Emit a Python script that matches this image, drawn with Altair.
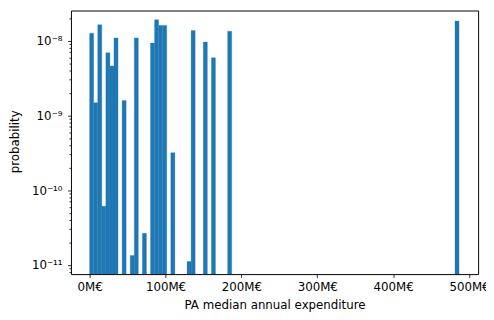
import altair as alt
import pandas as pd

# histogram bins (left edges in M€) and probabilities
bin_width = 5.35
bin_left = [0.0, 5.35, 10.7, 16.05, 21.4, 26.75, 32.1, 42.8, 53.5, 58.85,
            69.55, 80.25, 85.6, 90.95, 96.3, 107.0, 128.4, 133.75, 149.8,
            160.5, 181.9, 481.5]
prob = [1.26e-8, 1.48e-9, 1.64e-8, 6.1e-11, 6.9e-9, 4.6e-9, 1.09e-8, 1.58e-9,
        1.34e-11, 1.09e-8, 2.65e-11, 9.3e-9, 1.91e-8, 1.6e-8, 1.6e-8, 3.18e-10,
        1.11e-11, 1.37e-8, 9.6e-9, 5.9e-9, 1.34e-8, 1.83e-8]

x_ticks = [0, 100, 200, 300, 400, 500]
Y_MIN, Y_MAX = 7.55e-12, 2.535e-8
X_MIN, X_MAX = -24.6, 512.0

y_ticks = []
for k in range(-12, -7):
    for m in range(1, 10):
        v = m * 10.0 ** k
        if Y_MIN <= v <= Y_MAX:
            y_ticks.append(v)

df = pd.DataFrame({
    "left": bin_left,
    "right": [l + bin_width for l in bin_left],
    "prob": prob,
    "base": [Y_MIN] * len(prob),
})

is_major = "abs(log(datum.value)/LN10 - round(log(datum.value)/LN10)) < 0.001"
ylabel = (
    f"({is_major}) ? ("
    "round(log(datum.value)/LN10) == -8 ? '10⁻⁸' : "
    "round(log(datum.value)/LN10) == -9 ? '10⁻⁹' : "
    "round(log(datum.value)/LN10) == -10 ? '10⁻¹⁰' : "
    "round(log(datum.value)/LN10) == -11 ? '10⁻¹¹' : '') : ''"
)

chart = alt.Chart(df).mark_bar(color="#1f77b4", clip=True, binSpacing=0,
                               stroke="#1f77b4", strokeWidth=0.3).encode(
    x=alt.X("left:Q",
            scale=alt.Scale(domain=[X_MIN, X_MAX], nice=False, zero=False),
            axis=alt.Axis(values=x_ticks, labelExpr="datum.value + 'M€'",
                          title="PA median annual expenditure",
                          grid=False, domain=False, tickSize=3.5,
                          labelPadding=4, titleY=35, titleBaseline="alphabetic")),
    x2="right:Q",
    y=alt.Y("prob:Q",
            scale=alt.Scale(type="log", domain=[Y_MIN, Y_MAX], nice=False),
            axis=alt.Axis(values=y_ticks, labelExpr=ylabel, title="probability",
                          grid=False, domain=False,
                          tickSize={"condition": {"test": is_major, "value": 3.5}, "value": 2},
                          labelPadding=5.5, titleX=-57, titleY=133,
                          titleAngle=-90, titleAlign="center", titleBaseline="middle")),
    y2="base:Q",
).properties(
    width=414, height=268, autosize="none",
    padding={"left": 64, "top": 0, "right": 8, "bottom": 36},
).configure_view(
    stroke="black", strokeWidth=1
).configure_axis(
    labelFont="DejaVu Sans", labelFontSize=12, labelColor="black",
    titleFont="DejaVu Sans", titleFontSize=12, titleColor="black",
    titleFontWeight="normal", tickColor="black", tickWidth=0.8,
    labelFlush=False, labelOverlap=False
)

chart.save("out.html", embed_options={"renderer": "svg", "actions": False})
